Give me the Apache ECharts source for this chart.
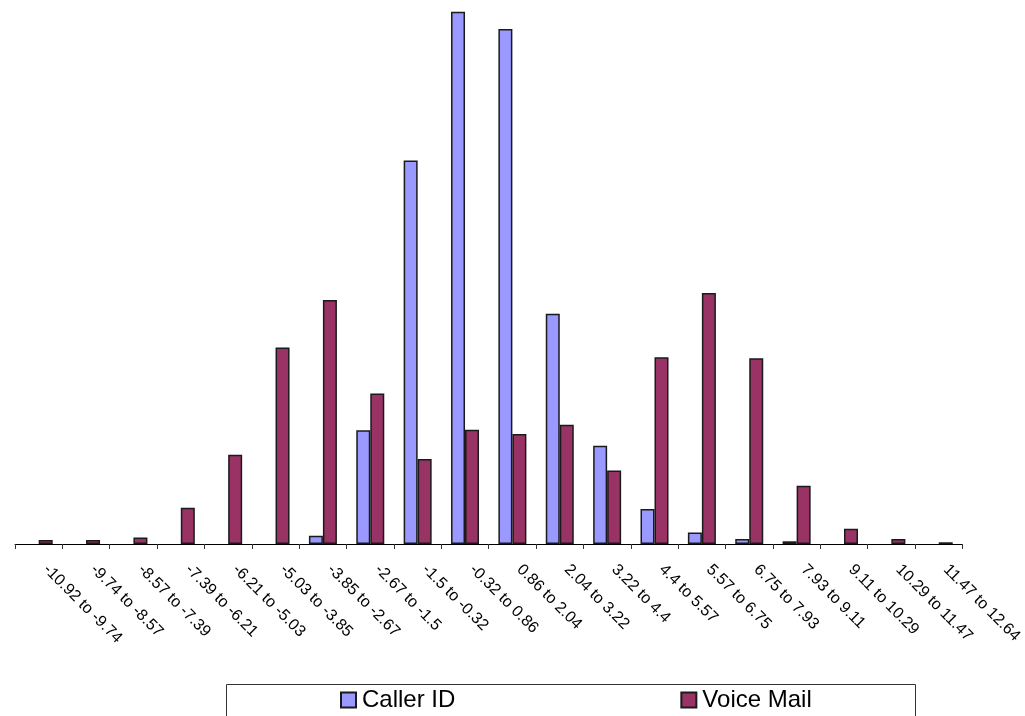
<!DOCTYPE html>
<html>
<head>
<meta charset="utf-8">
<script src="https://cdn.jsdelivr.net/npm/echarts@6/dist/echarts.min.js"></script>
<style>
  html, body { margin: 0; padding: 0; background: #fff; }
  #chart { width: 1025px; height: 716px; }
</style>
</head>
<body>
<div id="chart"></div>
<script>
// Difference bins (class intervals)
const categories = [
  '-10.92 to -9.74', '-9.74 to -8.57', '-8.57 to -7.39', '-7.39 to -6.21',
  '-6.21 to -5.03', '-5.03 to -3.85', '-3.85 to -2.67', '-2.67 to -1.5',
  '-1.5 to -0.32', '-0.32 to 0.86', '0.86 to 2.04', '2.04 to 3.22',
  '3.22 to 4.4', '4.4 to 5.57', '5.57 to 6.75', '6.75 to 7.93',
  '7.93 to 9.11', '9.11 to 10.29', '10.29 to 11.47', '11.47 to 12.64'
];

// Relative frequency (%) per bin
const callerId = [
  0, 0, 0, 0, 0, 0, 0.43, 5.87, 19.81, 27.50,
  26.60, 11.89, 5.07, 1.81, 0.60, 0.26, 0.14, 0, 0, 0
];
const voiceMail = [
  0.21, 0.21, 0.33, 1.87, 4.61, 10.15, 12.61, 7.78, 4.39, 5.90,
  5.68, 6.16, 3.80, 9.65, 12.97, 9.59, 3.01, 0.79, 0.26, 0.09
];

const seriesNames = ['Caller ID', 'Voice Mail'];

// Empty bins get no bar at all (avoids a flat outlined sliver on the axis)
const toBars = arr => arr.map(v => (v === 0 ? '-' : v));

const chart = echarts.init(document.getElementById('chart'));

const barBorder = { borderColor: '#1a1a1a', borderWidth: 1.5 };

chart.setOption({
  animation: false,
  backgroundColor: '#ffffff',
  textStyle: { fontFamily: 'Liberation Sans, Arial, sans-serif' },
  grid: { left: 15, right: 59, top: 2, bottom: 172, containLabel: false },
  xAxis: {
    type: 'category',
    data: categories,
    boundaryGap: true,
    axisLine: { lineStyle: { color: '#000', width: 1 } },
    axisTick: { show: true, length: 5, lineStyle: { color: '#333' }, interval: 0 },
    axisLabel: {
      interval: 0,
      rotate: -45,
      margin: 16,
      padding: [0, 0, 0, 10],
      color: '#000',
      fontSize: 16,
      fontFamily: 'Liberation Sans, Arial, sans-serif'
    }
  },
  yAxis: {
    type: 'value',
    min: 0,
    max: 28,
    show: false,
    splitLine: { show: false }
  },
  legend: {
    data: seriesNames,
    left: 340,
    top: 688,
    itemWidth: 15,
    itemHeight: 15,
    itemGap: 225,
    padding: 0,
    icon: 'rect',
    textStyle: {
      fontSize: 24,
      color: '#000',
      fontFamily: 'Liberation Sans, Arial, sans-serif',
      padding: [0, 0, 0, 1]
    }
  },
  graphic: [{
    type: 'rect',
    left: 224,
    top: 682,
    shape: { width: 689, height: 60 },
    style: { fill: 'none', stroke: '#333', lineWidth: 1 },
    silent: true,
    z: -1
  }],
  series: [
    {
      name: seriesNames[0],
      type: 'bar',
      data: toBars(callerId),
      barWidth: 14,
      barGap: '0%',
      itemStyle: Object.assign({ color: '#9999FF' }, barBorder)
    },
    {
      name: seriesNames[1],
      type: 'bar',
      data: toBars(voiceMail),
      barWidth: 14,
      barGap: '0%',
      itemStyle: Object.assign({ color: '#993366' }, barBorder)
    }
  ]
});
</script>
</body>
</html>
